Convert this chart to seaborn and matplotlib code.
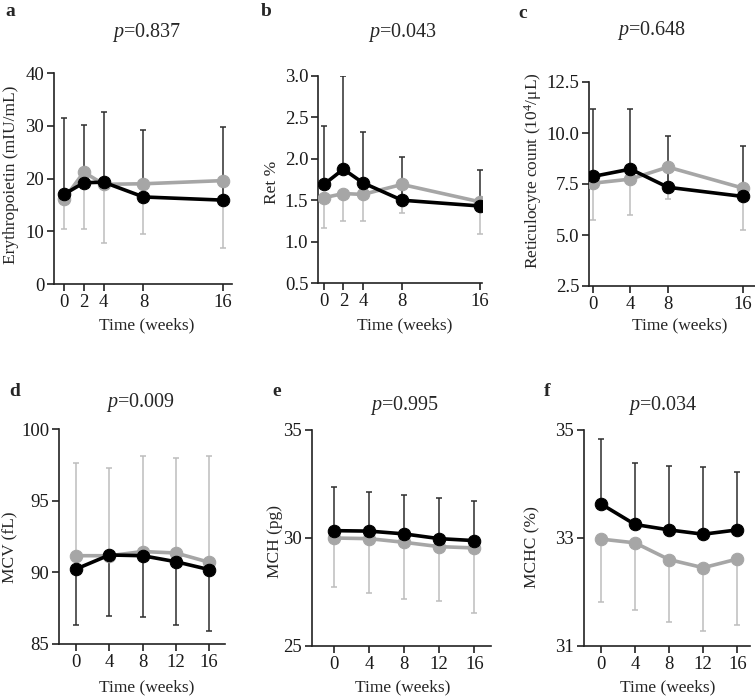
import matplotlib
matplotlib.use("Agg")
import matplotlib.pyplot as plt
import seaborn as sns
import numpy as np

sns.set_theme(style="ticks")
plt.rcParams['font.family'] = ['Liberation Serif', 'DejaVu Serif']
plt.rcParams['mathtext.fontset'] = 'custom'
plt.rcParams['mathtext.rm'] = 'Liberation Serif'
plt.rcParams['mathtext.it'] = 'Liberation Serif:italic'

# ---------------- data ----------------
weeks_a = [0, 2, 4, 8, 16]
epo_black = [17.0, 19.2, 19.3, 16.5, 15.9]
epo_black_sd = [14.5, 10.9, 13.4, 12.6, 13.9]
epo_grey = [16.1, 21.2, 18.9, 19.0, 19.6]
epo_grey_sd = [5.6, 10.8, 11.1, 9.6, 12.8]

weeks_b = [0, 2, 4, 8, 16]
ret_black = [1.69, 1.875, 1.71, 1.50, 1.43]
ret_black_sd = [0.71, 1.12, 0.61, 0.52, 0.44]
ret_grey = [1.53, 1.58, 1.57, 1.69, 1.48]
ret_grey_sd = [0.36, 0.33, 0.32, 0.34, 0.39]

weeks_c = [0, 4, 8, 16]
retc_black = [7.87, 8.23, 7.34, 6.89]
retc_black_sd = [3.32, 2.96, 2.52, 2.48]
retc_grey = [7.54, 7.74, 8.33, 7.30]
retc_grey_sd = [1.80, 1.77, 1.57, 2.07]

weeks_d = [0, 4, 8, 12, 16]
mcv_black = [90.23, 91.21, 91.16, 90.74, 90.19]
mcv_black_sd = [3.90, 4.28, 4.28, 4.41, 4.31]
mcv_grey = [91.16, 91.16, 91.45, 91.35, 90.70]
mcv_grey_sd = [6.44, 6.12, 6.64, 6.65, 7.44]

weeks_e = [0, 4, 8, 12, 16]
mch_black = [30.34, 30.32, 30.19, 29.97, 29.88]
mch_black_sd = [2.01, 1.83, 1.80, 1.90, 1.85]
mch_grey = [30.00, 29.97, 29.80, 29.60, 29.54]
mch_grey_sd = [2.25, 2.53, 2.62, 2.52, 3.03]

weeks_f = [0, 4, 8, 12, 16]
mchc_black = [33.63, 33.25, 33.15, 33.07, 33.15]
mchc_black_sd = [1.20, 1.13, 1.18, 1.25, 1.08]
mchc_grey = [32.98, 32.91, 32.60, 32.45, 32.61]
mchc_grey_sd = [1.16, 1.24, 1.16, 1.18, 1.23]

panel_letters = ['a', 'b', 'c', 'd', 'e', 'f']
p_values = ['0.837', '0.043', '0.648', '0.009', '0.995', '0.034']
ylabels = ['Erythropoietin (mIU/mL)', 'Ret %', 'Reticulocyte count (10$^{4}$/\u03bcL)',
           'MCV (fL)', 'MCH (pg)', 'MCHC (%)']
yticks_list = [[0, 10, 20, 30, 40], [0.5, 1.0, 1.5, 2.0, 2.5, 3.0],
               [2.5, 5.0, 7.5, 10.0, 12.5], [85, 90, 95, 100], [25, 30, 35], [31, 33, 35]]
ytick_fmt = ['{:.0f}', '{:.1f}', '{:.1f}', '{:.0f}', '{:.0f}', '{:.0f}']
xlabel = 'Time (weeks)'

# ---------------- layout (pixels) ----------------
W, H = 755, 699
fig = plt.figure(figsize=(W / 100, H / 100), dpi=100)

def px_axes(l, t, r, b):
    return fig.add_axes([l / W, 1 - b / H, (r - l) / W, (b - t) / H])

panels = [
    dict(box=(54, 73, 232, 284), xlim=(-1.0, 16.9), x=weeks_a, blk=epo_black, bsd=epo_black_sd,
         gry=epo_grey, gsd=epo_grey_sd, ylim=(0, 40), blk_up=True,
         letter=(10, 12), title=(147, 33), ylab=(11, 175), xlab=(147, 325)),
    dict(box=(318, 76, 482, 283), xlim=(-0.6, 16.2), x=weeks_b, blk=ret_black, bsd=ret_black_sd,
         gry=ret_grey, gsd=ret_grey_sd, ylim=(0.5, 3.0), blk_up=True,
         letter=(266, 12), title=(403, 32), ylab=(272, 182), xlab=(405, 325)),
    dict(box=(589, 82, 755, 286), xlim=(-0.43, 17.3), x=weeks_c, blk=retc_black, bsd=retc_black_sd,
         gry=retc_grey, gsd=retc_grey_sd, ylim=(2.5, 12.5), blk_up=True,
         letter=(523, 13), title=(652, 31), ylab=(533, 171), xlab=(680, 325)),
    dict(box=(59, 429, 225, 644), xlim=(-2.05, 17.9), x=weeks_d, blk=mcv_black, bsd=mcv_black_sd,
         gry=mcv_grey, gsd=mcv_grey_sd, ylim=(85, 100), blk_up=False,
         letter=(15, 392), title=(140, 403), ylab=(10, 547), xlab=(147, 687)),
    dict(box=(312, 430, 491, 646), xlim=(-2.5, 17.9), x=weeks_e, blk=mch_black, bsd=mch_black_sd,
         gry=mch_grey, gsd=mch_grey_sd, ylim=(25, 35), blk_up=True,
         letter=(277, 392), title=(405, 405), ylab=(275, 541), xlab=(403, 687)),
    dict(box=(584, 430, 750, 646), xlim=(-2.0, 17.5), x=weeks_f, blk=mchc_black, bsd=mchc_black_sd,
         gry=mchc_grey, gsd=mchc_grey_sd, ylim=(31, 35), blk_up=True,
         letter=(547, 392), title=(663, 405), ylab=(532, 547), xlab=(668, 687)),
]

GREY = '#a6a6a6'
GREY_ERR = '#bdbdbd'
BLK_ERR = '#2e2e2e'
FS_TICK = 13.5
FS_LAB = 12.5
FS_TITLE = 14.5

for i, p in enumerate(panels):
    ax = px_axes(*p['box'])
    x = np.array(p['x'], dtype=float)
    blk = np.array(p['blk']); bsd = np.array(p['bsd'])
    gry = np.array(p['gry']); gsd = np.array(p['gsd'])
    zeros = np.zeros_like(bsd)
    if p['blk_up']:
        byerr = [zeros, bsd]
        gyerr = [gsd, zeros]
    else:
        byerr = [bsd, zeros]
        gyerr = [zeros, gsd]
    ax.errorbar(x, gry, yerr=gyerr, fmt='none', ecolor=GREY_ERR, elinewidth=1.1,
                capsize=2, capthick=1.1, zorder=1)
    ax.errorbar(x, blk, yerr=byerr, fmt='none', ecolor=BLK_ERR, elinewidth=1.1,
                capsize=2, capthick=1.1, zorder=1)
    sns.lineplot(x=x, y=gry, ax=ax, color=GREY, marker='o', markersize=9,
                 markeredgecolor=GREY, linewidth=2.6, zorder=3)
    sns.lineplot(x=x, y=blk, ax=ax, color='black', marker='o', markersize=9,
                 markeredgecolor='black', linewidth=2.6, zorder=4)

    ax.set_xlim(*p['xlim'])
    ax.set_ylim(*p['ylim'])
    ax.set_xticks(p['x'])
    ax.set_xticklabels([str(v) for v in p['x']], fontsize=FS_TICK)
    yt = yticks_list[i]
    ax.set_yticks(yt)
    ax.set_yticklabels([ytick_fmt[i].format(v) for v in yt], fontsize=FS_TICK)
    for s in ['top', 'right']:
        ax.spines[s].set_visible(False)
    for s in ['left', 'bottom']:
        ax.spines[s].set_color('#222222')
        ax.spines[s].set_linewidth(1.2)
    ax.tick_params(axis='both', direction='out', length=5, width=1.2, color='#222222',
                   pad=2, labelcolor='#1a1a1a')
    ax.set_xlabel('')
    ax.set_ylabel('')

    fig.text(p['letter'][0] / W, 1 - p['letter'][1] / H, panel_letters[i],
             fontsize=14, fontweight='bold', ha='center', va='center')
    fig.text(p['title'][0] / W, 1 - p['title'][1] / H, '$p$=' + p_values[i],
             fontsize=FS_TITLE, ha='center', va='center')
    fig.text(p['ylab'][0] / W, 1 - p['ylab'][1] / H, ylabels[i], rotation=90,
             fontsize=FS_LAB, ha='center', va='center')
    fig.text(p['xlab'][0] / W, 1 - p['xlab'][1] / H, xlabel,
             fontsize=FS_LAB, ha='center', va='center')

fig.savefig('out.png', dpi=100)
